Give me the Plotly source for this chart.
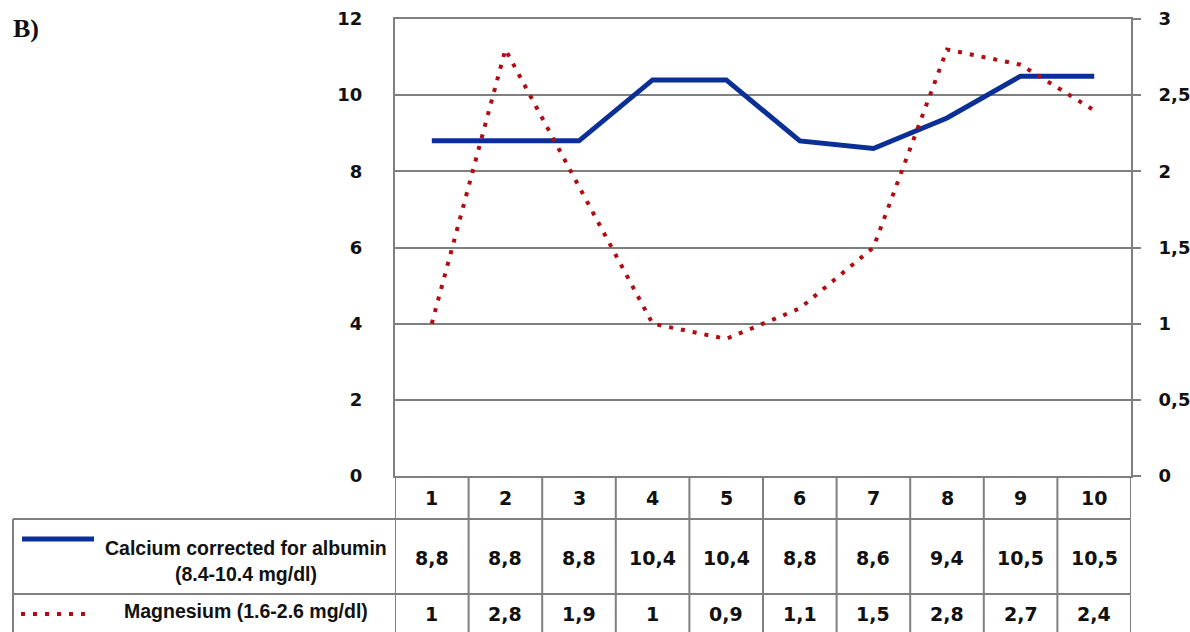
import plotly.graph_objects as go

# ---- data ----
categories = [1, 2, 3, 4, 5, 6, 7, 8, 9, 10]
calcium = [8.8, 8.8, 8.8, 10.4, 10.4, 8.8, 8.6, 9.4, 10.5, 10.5]
magnesium = [1, 2.8, 1.9, 1, 0.9, 1.1, 1.5, 2.8, 2.7, 2.4]
left_tick_vals = [0, 2, 4, 6, 8, 10, 12]
right_tick_vals = [0, 0.5, 1, 1.5, 2, 2.5, 3]
right_tick_text = ["0", "0,5", "1", "1,5", "2", "2,5", "3"]
calcium_label = ["Calcium corrected for albumin", "(8.4-10.4 mg/dl)"]
magnesium_label = "Magnesium (1.6-2.6 mg/dl)"
panel_label = "B)"


def fmt(v):
    return ("%g" % v).replace(".", ",")


# ---- layout geometry (screen pixels; body margin removed below) ----
W, H = 1190, 632
PLOT_L, PLOT_T, PLOT_R, PLOT_B = 395, 19, 1131, 476
L, T, R, B = PLOT_L, PLOT_T, W - PLOT_R, H - PLOT_B
PH = H - T - B
PW = W - L - R


def py(p):
    return (PLOT_B - p) / PH


def px(p):
    return (p - PLOT_L) / PW


BLUE = "#0a2f96"
RED = "#b00c12"
GRID = "#7f7f7f"
NUMFONT = dict(family="DejaVu Sans", size=18, color="#111111", weight="bold")
TABFONT = dict(family="DejaVu Sans", size=19, color="#111111", weight="bold")
LEGFONT = dict(family="Liberation Sans Narrow, Liberation Sans", size=19.5,
               color="#111111", weight="bold")

fig = go.Figure()
fig.add_trace(go.Scatter(x=categories, y=calcium, mode="lines",
                         line=dict(color=BLUE, width=5),
                         name=calcium_label[0], yaxis="y"))
fig.add_trace(go.Scatter(x=categories, y=magnesium, mode="lines",
                         line=dict(color=RED, width=4, dash="4px,8px"),
                         name=magnesium_label, yaxis="y2"))

shapes = []
annotations = []

row_top, row1, row2, row_bot = 476, 519, 594, 660
for k in range(len(categories) + 1):
    xv = categories[0] - 0.5 + k
    shapes.append(dict(type="line", xref="x", yref="paper",
                       x0=xv, x1=xv, y0=py(row_top), y1=py(row_bot),
                       line=dict(color=GRID, width=2)))
for r in (row1, row2):
    shapes.append(dict(type="line", xref="paper", yref="paper",
                       x0=px(13), x1=1, y0=py(r), y1=py(r),
                       line=dict(color=GRID, width=2)))
shapes.append(dict(type="line", xref="paper", yref="paper",
                   x0=px(13), x1=px(13), y0=py(row1), y1=py(row_bot),
                   line=dict(color=GRID, width=2)))
# legend samples
shapes.append(dict(type="line", xref="paper", yref="paper",
                   x0=px(22), x1=px(94), y0=py(539), y1=py(539),
                   line=dict(color=BLUE, width=5)))
shapes.append(dict(type="line", xref="paper", yref="paper",
                   x0=px(21), x1=px(90), y0=py(614), y1=py(614),
                   line=dict(color=RED, width=4, dash="4px,8px")))

for c, ca, mg in zip(categories, calcium, magnesium):
    annotations.append(dict(x=c, y=py((row_top + row1) / 2), xref="x", yref="paper",
                            text=str(c), showarrow=False, font=TABFONT,
                            xanchor="center", yanchor="middle"))
    annotations.append(dict(x=c, y=py((row1 + row2) / 2 + 1), xref="x", yref="paper",
                            text=fmt(ca), showarrow=False, font=TABFONT,
                            xanchor="center", yanchor="middle"))
    annotations.append(dict(x=c, y=py(614), xref="x", yref="paper",
                            text=fmt(mg), showarrow=False, font=TABFONT,
                            xanchor="center", yanchor="middle"))

annotations.append(dict(x=px(246), y=py(548), xref="paper", yref="paper",
                        text=calcium_label[0], showarrow=False, font=LEGFONT,
                        xanchor="center", yanchor="middle"))
annotations.append(dict(x=px(246), y=py(574), xref="paper", yref="paper",
                        text=calcium_label[1], showarrow=False, font=LEGFONT,
                        xanchor="center", yanchor="middle"))
annotations.append(dict(x=px(246), y=py(611), xref="paper", yref="paper",
                        text=magnesium_label, showarrow=False, font=LEGFONT,
                        xanchor="center", yanchor="middle"))
annotations.append(dict(x=px(11), y=py(28), xref="paper", yref="paper",
                        text=panel_label, showarrow=False,
                        font=dict(family="Liberation Serif", size=26,
                                  color="#111111", weight="bold"),
                        xanchor="left", yanchor="middle"))

fig.update_layout(
    width=W, height=H,
    margin=dict(l=L, r=R, t=T, b=B, pad=0, autoexpand=False),
    paper_bgcolor="white", plot_bgcolor="white",
    showlegend=False,
    xaxis=dict(range=[categories[0] - 0.5, categories[-1] + 0.5],
               showticklabels=False, showgrid=False, zeroline=False,
               ticks="", showline=True, mirror=True, automargin=False,
               linecolor=GRID, linewidth=2),
    yaxis=dict(range=[0, 12], tickvals=left_tick_vals,
               ticktext=[str(v) for v in left_tick_vals],
               showgrid=True, gridcolor=GRID, gridwidth=2,
               zeroline=False, showline=True, mirror=True, automargin=False,
               linecolor=GRID, linewidth=2, ticks="",
               ticklabelstandoff=27, tickfont=NUMFONT),
    yaxis2=dict(range=[0, 3], tickvals=right_tick_vals,
                ticktext=right_tick_text, overlaying="y", side="right",
                showgrid=False, zeroline=False, showline=False, automargin=False,
                ticks="outside", ticklen=9, tickwidth=2, tickcolor=GRID,
                ticklabelstandoff=14, tickfont=NUMFONT),
    shapes=shapes,
    annotations=annotations,
)

fig.write_html(
    "out.html",
    config={"displayModeBar": False},
    post_script="document.body.style.margin='0';document.body.style.overflow='hidden';",
)
